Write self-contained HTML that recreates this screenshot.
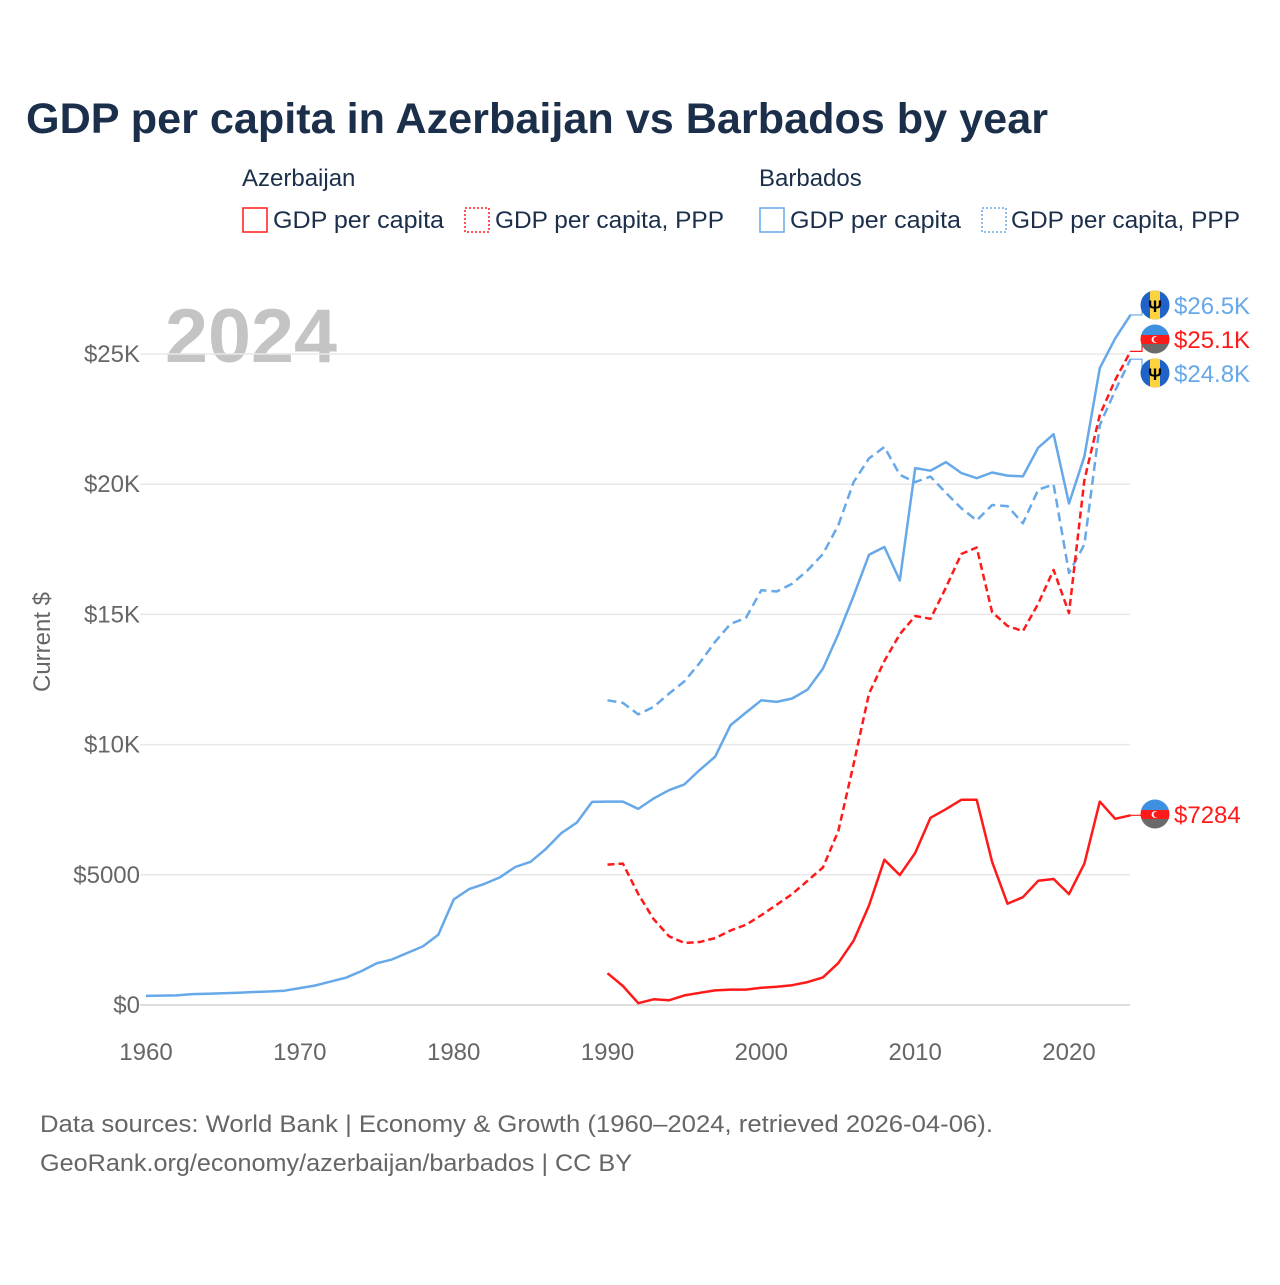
<!DOCTYPE html>
<html><head><meta charset="utf-8"><style>
body{margin:0;background:#fff;}
svg text{font-family:"Liberation Sans",sans-serif;}
</style></head><body>
<svg id="chart" width="1280" height="1280" viewBox="0 0 1280 1280">
<rect width="1280" height="1280" fill="#fff"/>
<text x="26" y="133" font-size="43" font-weight="bold" fill="#1b2f4b" textLength="1022" lengthAdjust="spacingAndGlyphs">GDP per capita in Azerbaijan vs Barbados by year</text>
<g font-size="24" fill="#1b2f4b">
<text x="242" y="186">Azerbaijan</text>
<text x="759" y="186">Barbados</text>
<g><rect x="243" y="208" width="24" height="24" fill="none" stroke="#ff1a1a" stroke-width="1.5"/><text x="273" y="228" textLength="171" lengthAdjust="spacingAndGlyphs">GDP per capita</text></g>
<g><rect x="465" y="208" width="24" height="24" fill="none" stroke="#ff1a1a" stroke-width="1.5" stroke-dasharray="2,2"/><text x="495" y="228" textLength="229" lengthAdjust="spacingAndGlyphs">GDP per capita, PPP</text></g>
<g><rect x="760" y="208" width="24" height="24" fill="none" stroke="#66a8e8" stroke-width="1.5"/><text x="790" y="228" textLength="171" lengthAdjust="spacingAndGlyphs">GDP per capita</text></g>
<g><rect x="982" y="208" width="24" height="24" fill="none" stroke="#66a8e8" stroke-width="1.5" stroke-dasharray="2,2"/><text x="1011" y="228" textLength="229" lengthAdjust="spacingAndGlyphs">GDP per capita, PPP</text></g>
</g>
<text x="165" y="362" font-size="76" font-weight="bold" fill="#c4c4c4" textLength="172" lengthAdjust="spacingAndGlyphs">2024</text>
<text transform="translate(50,642) rotate(-90)" text-anchor="middle" font-size="24" fill="#666">Current $</text>
<g id="grid"></g><g id="axes"></g><g id="series"></g><g id="labels"></g>
<text x="40" y="1132" font-size="24" fill="#666" textLength="953" lengthAdjust="spacingAndGlyphs">Data sources: World Bank | Economy &amp; Growth (1960–2024, retrieved 2026-04-06).</text>
<text x="40" y="1171" font-size="24" fill="#666" textLength="592" lengthAdjust="spacingAndGlyphs">GeoRank.org/economy/azerbaijan/barbados | CC BY</text>
</svg>
<script>
const brbGdpYears=[1960,1961,1962,1963,1964,1965,1966,1967,1968,1969,1970,1971,1972,1973,1974,1975,1976,1977,1978,1979,1980,1981,1982,1983,1984,1985,1986,1987,1988,1989,1990,1991,1992,1993,1994,1995,1996,1997,1998,1999,2000,2001,2002,2003,2004,2005,2006,2007,2008,2009,2010,2011,2012,2013,2014,2015,2016,2017,2018,2019,2020,2021,2022,2023,2024];
const brbGdp=[350,360,370,420,430,450,470,500,520,550,650,750,900,1050,1300,1600,1750,2000,2250,2700,4050,4450,4650,4900,5300,5500,6000,6600,7000,7800,7810,7810,7530,7930,8250,8470,9030,9540,10750,11230,11700,11640,11770,12110,12920,14240,15710,17290,17590,16300,20620,20520,20850,20430,20230,20450,20330,20300,21400,21920,19260,21070,24460,25600,26500];
const years90=[1990,1991,1992,1993,1994,1995,1996,1997,1998,1999,2000,2001,2002,2003,2004,2005,2006,2007,2008,2009,2010,2011,2012,2013,2014,2015,2016,2017,2018,2019,2020,2021,2022,2023,2024];
const brbPpp=[11700,11600,11160,11450,11960,12430,13140,13950,14640,14860,15930,15880,16180,16690,17320,18420,20080,20990,21430,20360,20080,20290,19670,19080,18610,19200,19160,18500,19790,19990,16590,17690,22270,23600,24800];
const azePpp=[5390,5430,4260,3300,2640,2380,2420,2570,2860,3080,3450,3850,4260,4770,5280,6680,9250,11960,13210,14240,14940,14830,16030,17320,17570,15090,14560,14360,15410,16710,15050,20160,22660,24000,25100];
const azeGdp=[1220,730,70,220,180,370,470,560,590,590,660,700,760,880,1060,1610,2470,3820,5580,4990,5840,7190,7520,7880,7880,5500,3890,4140,4770,4840,4260,5430,7810,7150,7284];
const yTicks=[0,5000,10000,15000,20000,25000];
const yTickLabels=["$0","$5000","$10K","$15K","$20K","$25K"];
const xTicks=[1960,1970,1980,1990,2000,2010,2020];
const NS="http://www.w3.org/2000/svg";
const X=y=>146+(y-1960)*(923/60);
const Y=v=>1005-v*(651/25000);
function mk(tag,attrs,parent,txt){const e=document.createElementNS(NS,tag);for(const k in attrs)e.setAttribute(k,attrs[k]);if(txt!==undefined)e.textContent=txt;document.getElementById(parent).appendChild(e);return e;}
yTicks.forEach((t,i)=>{
 const l=mk('line',{x1:140,x2:1130,y1:Y(t),y2:Y(t),stroke:t===0?'#ddd':'#e8e8e8','stroke-width':t===0?2:1.5},'grid');
 
 
 const tx=mk('text',{x:140,y:Y(t)+8,'text-anchor':'end','font-size':24,fill:'#666'},'axes',yTickLabels[i]);
 
 
});
xTicks.forEach(t=>{
 const tx=mk('text',{x:X(t),y:1060,'text-anchor':'middle','font-size':24,fill:'#666'},'axes',String(t));
 
 
});
function line(xs,vs,color,dash,name){
 const d=xs.map((y,i)=>(i?'L':'M')+X(y).toFixed(1)+','+Y(vs[i]).toFixed(1)).join('');
 const p=mk('path',{d:d,fill:'none',stroke:color,'stroke-width':2.5,'stroke-dasharray':dash,'stroke-linejoin':'round'},'series');
 
 
}
line(brbGdpYears,brbGdp,'#66a8e8','none','line-barbados-gdp');
line(years90,brbPpp,'#66a8e8','9,5','line-barbados-ppp');
line(years90,azePpp,'#ff1a1a','7,4','line-azerbaijan-ppp');
line(years90,azeGdp,'#ff1a1a','none','line-azerbaijan-gdp');
function flag(cx,cy,country){
 const g=mk('g',{},'labels');
 
 
 const id='c'+Math.round(cy);
 const cp=document.createElementNS(NS,'clipPath');cp.setAttribute('id',id);
 const c=document.createElementNS(NS,'circle');c.setAttribute('cx',cx);c.setAttribute('cy',cy);c.setAttribute('r',14.5);cp.appendChild(c);g.appendChild(cp);
 const add=(t,a)=>{const e=document.createElementNS(NS,t);for(const k in a)e.setAttribute(k,a[k]);e.setAttribute('clip-path','url(#'+id+')');g.appendChild(e);return e;};
 if(country==='barbados'){
  add('rect',{x:cx-15,y:cy-15,width:30,height:30,fill:'#1f63c9'});
  add('rect',{x:cx-5,y:cy-15,width:10,height:30,fill:'#fcd23d'});
  const t=document.createElementNS(NS,'text');t.setAttribute('x',cx);t.setAttribute('y',cy+7);t.setAttribute('text-anchor','middle');t.setAttribute('font-size',17);t.setAttribute('font-weight','bold');t.setAttribute('fill','#000');t.textContent='Ψ';g.appendChild(t);
 }else{
  add('rect',{x:cx-15,y:cy-15,width:30,height:11,fill:'#3d8fe0'});
  add('rect',{x:cx-15,y:cy-4,width:30,height:9,fill:'#ff1a1a'});
  add('rect',{x:cx-15,y:cy+5,width:30,height:11,fill:'#6a6a6a'});
  add('circle',{cx:cx,cy:cy+0.5,r:3.4,fill:'#fff'});
  add('circle',{cx:cx+1.3,cy:cy+0.5,r:2.8,fill:'#ff1a1a'});
 }
}
function endLabel(yv,ly,color,country,txt,name){
 const p=mk('path',{d:`M1130,${Y(yv)} L1142,${Y(yv)} L1142,${ly}`,fill:'none',stroke:color,'stroke-width':1.2},'labels');
 
 
 flag(1155,ly,country);
 const t=mk('text',{x:1174,y:ly+9,'font-size':24,fill:color},'labels',txt);
 
 
}
endLabel(brbGdp[brbGdp.length-1],305,'#66a8e8','barbados','$26.5K','label-barbados-gdp');
endLabel(azePpp[azePpp.length-1],339,'#ff1a1a','azerbaijan','$25.1K','label-azerbaijan-ppp');
endLabel(brbPpp[brbPpp.length-1],373,'#66a8e8','barbados','$24.8K','label-barbados-ppp');
endLabel(azeGdp[azeGdp.length-1],814,'#ff1a1a','azerbaijan','$7284','label-azerbaijan-gdp');
</script>
</body></html>
